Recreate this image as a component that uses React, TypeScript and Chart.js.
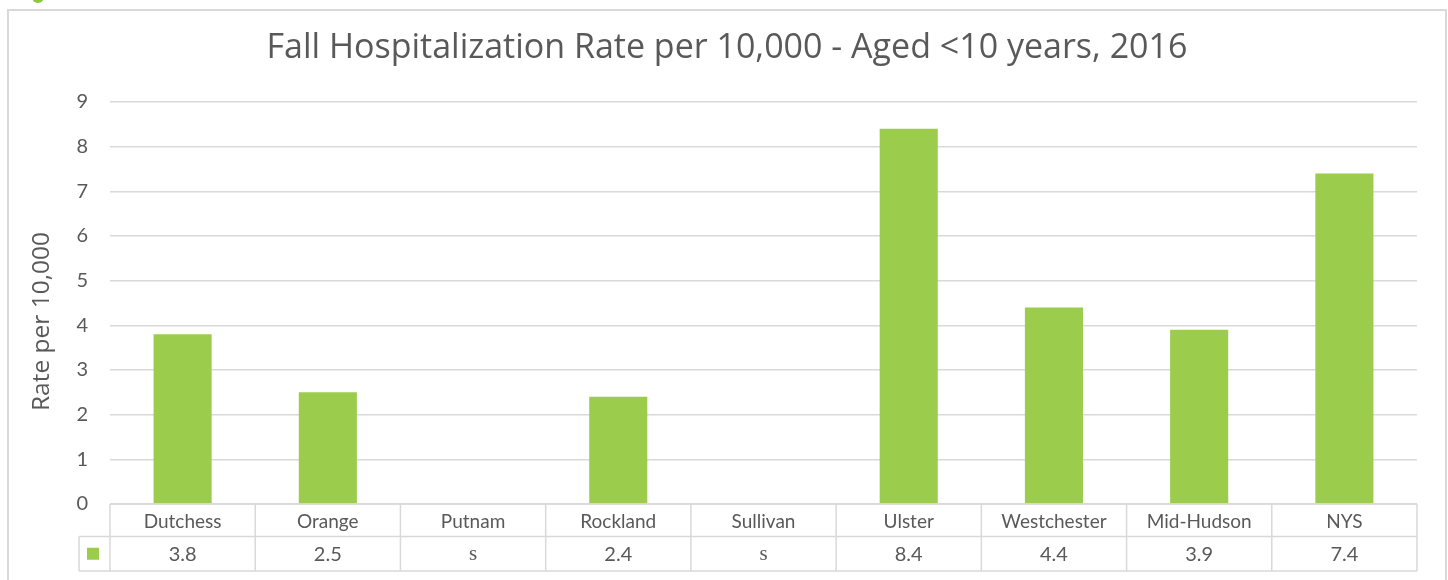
import { useEffect, useRef } from "react";
import { Chart, registerables } from "chart.js";

Chart.register(...registerables);

const TITLE = "Fall Hospitalization Rate per 10,000 - Aged <10 years, 2016";
const Y_TITLE = "Rate per 10,000";
const categories = ["Dutchess", "Orange", "Putnam", "Rockland", "Sullivan", "Ulster", "Westchester", "Mid-Hudson", "NYS"];
const rates: (number | null)[] = [3.8, 2.5, null, 2.4, null, 8.4, 4.4, 3.9, 7.4];
const tableValues = ["3.8", "2.5", "s", "2.4", "s", "8.4", "4.4", "3.9", "7.4"];
const yMin = 0;
const yMax = 9;
const yStep = 1;

const FONT = "Lato";
const TITLE_FONT = "'Open Sans'";
const TEXT = "#595959";
const GRID = "#d9d9d9";
const BAR = "#9bcc4b";

const tablePlugin = {
  id: "dataTable",
  afterDraw(chart: any) {
    const { ctx, chartArea } = chart;
    const { left, right, bottom, top } = chartArea;
    const n = categories.length;
    const colW = (right - left) / n;
    const r1 = bottom;
    const r2 = bottom + 32.5;
    const r3 = bottom + 67;
    const legendLeft = left - 31;
    ctx.save();
    ctx.strokeStyle = GRID;
    ctx.lineWidth = 1.5;
    ctx.beginPath();
    ctx.moveTo(left, r1); ctx.lineTo(right, r1);
    ctx.moveTo(legendLeft, r2); ctx.lineTo(right, r2);
    ctx.moveTo(legendLeft, r3); ctx.lineTo(right, r3);
    ctx.moveTo(legendLeft, r2); ctx.lineTo(legendLeft, r3);
    for (let i = 0; i <= n; i++) {
      const x = left + i * colW;
      ctx.moveTo(x, r1); ctx.lineTo(x, r3);
    }
    ctx.stroke();
    // legend key
    ctx.fillStyle = BAR;
    ctx.fillRect(legendLeft + 8, (r2 + r3) / 2 - 6, 12, 12);
    // values
    ctx.fillStyle = TEXT;
    ctx.textAlign = "center";
    ctx.textBaseline = "middle";
    const xs = chart.scales.x;
    tableValues.forEach((v, i) => {
      const cx = xs.getPixelForValue(i);
      ctx.font = v === "s" ? "21px 'Liberation Serif'" : `20px ${FONT}`;
      ctx.fillText(v, cx, (r2 + r3) / 2 + 1);
    });
    // chart title
    ctx.font = `34px ${TITLE_FONT}`;
    ctx.fillText(TITLE, 727, 48);
    // y axis title
    ctx.translate(42, (top + r3) / 2 - 15);
    ctx.rotate(-Math.PI / 2);
    ctx.font = `24.5px ${TITLE_FONT}`;
    ctx.fillText(Y_TITLE, 0, 0);
    ctx.restore();
  },
};

export default function App() {
  const ref = useRef<HTMLCanvasElement | null>(null);
  useEffect(() => {
    if (!ref.current) return;
    const chart = new Chart(ref.current, {
      type: "bar",
      data: {
        labels: categories,
        datasets: [
          {
            label: "Rate per 10,000",
            data: rates,
            backgroundColor: BAR,
            barPercentage: 0.4,
            categoryPercentage: 1,
          },
        ],
      },
      options: {
        animation: false,
        responsive: false,
        devicePixelRatio: 1,
        layout: { padding: { left: 10, right: 31, top: 102, bottom: 43.5 } },
        plugins: {
          legend: { display: false },
          tooltip: { enabled: false },
          title: { display: false },
        },
        scales: {
          x: {
            grid: { display: false, drawTicks: false },
            border: { display: false },
            ticks: { color: TEXT, font: { family: FONT, size: 19 }, padding: 6, maxRotation: 0 },
            afterFit: (s: any) => { s.height = 32.5; },
          },
          y: {
            min: yMin,
            max: yMax,
            grid: { color: GRID, lineWidth: 1.5, drawTicks: false },
            border: { display: false },
            ticks: { stepSize: yStep, color: TEXT, font: { family: FONT, size: 20 }, padding: 22 },
            afterFit: (s: any) => { s.width = 100; },
          },
        },
      },
      plugins: [tablePlugin],
    });
    return () => chart.destroy();
  }, []);
  return (
    <div>
      <canvas ref={ref} width={1448} height={580} style={{ position: "absolute", left: 0, top: 0, width: 1448, height: 580 }} />
      <div style={{ position: "absolute", left: 7, top: 9, width: 1440, height: 600, border: `2px solid ${GRID}`, boxSizing: "border-box", pointerEvents: "none" }} />
      <div style={{ position: "absolute", left: 32, top: -9, width: 12, height: 12, borderRadius: "50%", background: "#8dc63f" }} />
    </div>
  );
}
